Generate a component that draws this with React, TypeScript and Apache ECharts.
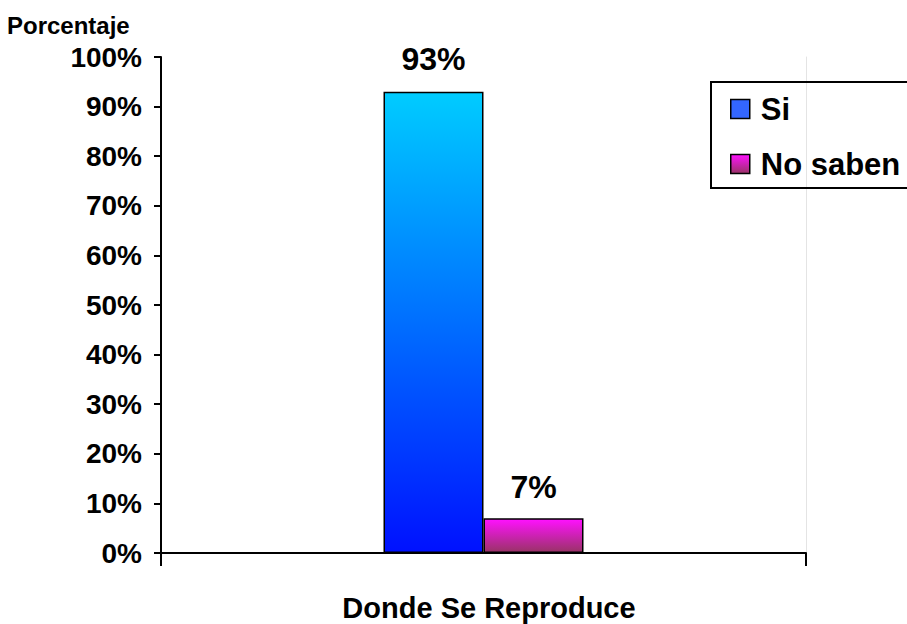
import React, { useEffect, useRef } from "react";
import * as echarts from "echarts";

const categories = ["Donde Se Reproduce"];
const seriesNames = ["Si", "No saben"];
const siValues = [93];
const noSabenValues = [7];
const yTicksMax = 100;

const FONT = "'Liberation Sans', Arial, Helvetica, sans-serif";

export default function App() {
  const ref = useRef<HTMLDivElement>(null);
  useEffect(() => {
    if (!ref.current) return;
    const chart = echarts.init(ref.current, null, { renderer: "svg" });
    const siGrad = new echarts.graphic.LinearGradient(0, 0, 0, 1, [
      { offset: 0, color: "#00CCFF" },
      { offset: 1, color: "#0011FF" },
    ]);
    const noGrad = new echarts.graphic.LinearGradient(0, 0, 0, 1, [
      { offset: 0, color: "#FF11FF" },
      { offset: 1, color: "#993366" },
    ]);
    chart.setOption({
      animation: false,
      backgroundColor: "#ffffff",
      textStyle: { fontFamily: FONT },
      title: {
        text: "Porcentaje",
        left: 7,
        top: 13,
        padding: 0,
        textStyle: { fontFamily: FONT, fontWeight: "bold", fontSize: 24, color: "#000" },
      },
      grid: { left: 161, right: 101, top: 57, bottom: 71, containLabel: false },
      graphic: [
        {
          type: "rect",
          shape: { x: 711, y: 82, width: 230, height: 106 },
          style: { fill: "none", stroke: "#000", lineWidth: 2 },
          z: 10,
        },
      ],
      legend: {
        orient: "vertical",
        left: 711,
        top: 82,
        padding: [10, 10, 7, 19],
        itemGap: 21,
        itemWidth: 19,
        itemHeight: 19,
        borderWidth: 0,
        textStyle: {
          fontFamily: FONT,
          fontWeight: "bold",
          fontSize: 31,
          lineHeight: 34,
          color: "#000",
          padding: [0, 0, 0, 6],
        },
        data: [
          { name: seriesNames[0], icon: "rect", itemStyle: { color: "#3366FF", borderColor: "#000", borderWidth: 1.5 } },
          { name: seriesNames[1], icon: "rect", itemStyle: { borderColor: "#000", borderWidth: 1.5 } },
        ],
      },
      xAxis: {
        type: "category",
        data: categories,
        boundaryGap: true,
        axisLine: { lineStyle: { color: "#000", width: 2 } },
        axisTick: { show: true, length: 13, lineStyle: { color: "#000", width: 2 } },
        axisLabel: {
          margin: 41,
          fontFamily: FONT,
          fontWeight: "bold",
          fontSize: 29,
          lineHeight: 28,
          color: "#000",
          padding: [0, 0, 0, 11],
        },
      },
      yAxis: [
        {
          type: "value",
          min: 0,
          max: yTicksMax,
          interval: 10,
          axisLine: { show: true, lineStyle: { color: "#000", width: 2 } },
          axisTick: { show: true, length: 7, lineStyle: { color: "#000", width: 2 } },
          splitLine: { show: false },
          axisLabel: {
            formatter: "{value}%",
            margin: 19,
            fontFamily: FONT,
            fontWeight: "bold",
            fontSize: 28,
            color: "#000",
          },
        },
        {
          type: "value",
          position: "right",
          min: 0,
          max: yTicksMax,
          interval: 10,
          axisLine: { show: true, lineStyle: { color: "#e4e4e4", width: 1 } },
          axisTick: { show: false },
          axisLabel: { show: false },
          splitLine: { show: false },
        },
      ],
      series: [
        {
          name: seriesNames[0],
          type: "bar",
          data: siValues,
          barWidth: 100,
          barGap: "0%",
          itemStyle: { color: siGrad, borderColor: "#000", borderWidth: 1.5 },
          label: {
            show: true,
            position: "top",
            distance: 17,
            formatter: "{c}%",
            fontFamily: FONT,
            fontWeight: "bold",
            fontSize: 32,
            color: "#000",
          },
        },
        {
          name: seriesNames[1],
          type: "bar",
          data: noSabenValues,
          barWidth: 100,
          barGap: "0%",
          itemStyle: { color: noGrad, borderColor: "#000", borderWidth: 1.5 },
          label: {
            show: true,
            position: "top",
            distance: 15,
            formatter: "{c}%",
            fontFamily: FONT,
            fontWeight: "bold",
            fontSize: 32,
            color: "#000",
          },
        },
      ],
    });
    return () => chart.dispose();
  }, []);
  return <div ref={ref} style={{ width: 907, height: 624, position: "absolute", left: 0, top: 0 }} />;
}
